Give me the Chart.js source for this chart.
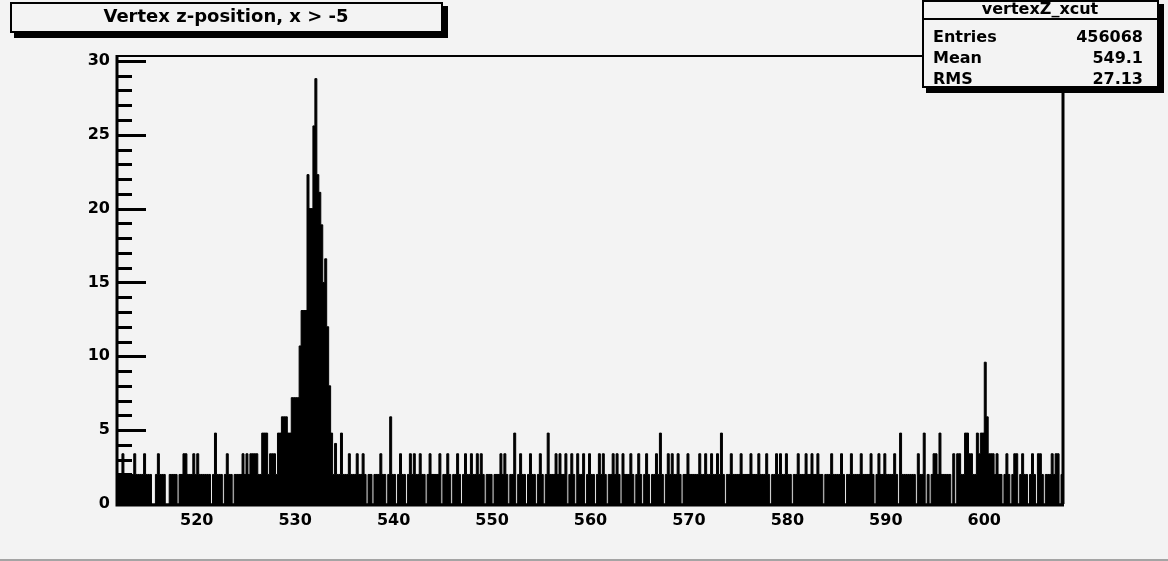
<!DOCTYPE html>
<html>
<head>
<meta charset="utf-8">
<script src="https://cdn.jsdelivr.net/npm/chart.js@4.4.0/dist/chart.umd.min.js"></script>
<style>
  html, body { margin: 0; padding: 0; background: #f3f3f3; }
  #wrap { position: relative; width: 1168px; height: 561px; }
</style>
</head>
<body>
<div id="wrap"><canvas id="histo" width="1168" height="561"></canvas></div>
<script>
// vertexZ_xcut histogram, 0.2 wide bins from 512 to 608
const xMin = 512;
const xMax = 608;
const binWidth = 0.2;
const xTicks = [520, 530, 540, 550, 560, 570, 580, 590, 600];
const yTicks = [0, 5, 10, 15, 20, 25, 30];
const yMax = 30.4;

// bin contents, one row = 4 units (20 bins)
const binContents = [
  2, 2, 3.4, 2, 2, 2, 2, 2, 3.4, 2, 2, 2, 2, 3.4, 2, 2, 2, 0, 0, 2,          // 512
  3.4, 2, 2, 2, 0, 0, 2, 2, 2, 2, 0, 2, 2, 3.4, 3.4, 2, 2, 2, 3.4, 2,        // 516
  3.4, 2, 2, 2, 2, 2, 2, 0, 2, 4.8, 2, 2, 2, 0, 2, 3.4, 2, 2, 0, 2,          // 520
  2, 2, 2, 3.4, 2, 3.4, 2, 3.4, 3.4, 3.4, 3.4, 2, 2, 4.8, 4.8, 4.8, 2, 3.4, 3.4, 3.4, // 524
  2, 4.8, 4.8, 5.9, 5.9, 5.9, 4.8, 4.8, 7.2, 7.2, 7.2, 7.2, 10.7, 13.1, 13.1, 13.1, 22.3, 20, 20, 25.6, // 528
  28.8, 22.3, 21.1, 18.9, 15, 16.6, 12, 8, 4.8, 2, 4.1, 2, 2, 4.8, 2, 2, 2, 3.4, 2, 2, // 532
  2, 3.4, 2, 2, 3.4, 2, 0, 2, 2, 0, 2, 2, 2, 3.4, 2, 2, 0, 2, 5.9, 2,        // 536
  2, 0, 2, 3.4, 2, 2, 0, 2, 3.4, 2, 3.4, 2, 2, 3.4, 2, 2, 0, 2, 3.4, 2,      // 540
  2, 2, 2, 3.4, 0, 2, 2, 3.4, 2, 0, 2, 2, 3.4, 2, 0, 2, 3.4, 2, 2, 3.4,      // 544
  2, 2, 3.4, 2, 3.4, 2, 0, 2, 2, 2, 0, 2, 2, 2, 3.4, 2, 3.4, 2, 0, 2,        // 548
  2, 4.8, 0, 2, 3.4, 2, 2, 0, 2, 3.4, 2, 2, 0, 2, 3.4, 2, 0, 2, 4.8, 2,      // 552
  2, 2, 3.4, 2, 3.4, 2, 2, 3.4, 0, 2, 3.4, 2, 0, 3.4, 2, 2, 3.4, 0, 2, 3.4,  // 556
  2, 2, 0, 2, 3.4, 2, 3.4, 2, 0, 2, 2, 3.4, 2, 3.4, 2, 0, 3.4, 2, 2, 2,      // 560
  3.4, 2, 0, 2, 3.4, 2, 0, 2, 3.4, 2, 0, 2, 2, 3.4, 2, 4.8, 2, 0, 2, 3.4,    // 564
  2, 3.4, 2, 2, 3.4, 2, 0, 2, 2, 3.4, 2, 2, 2, 2, 2, 3.4, 2, 2, 3.4, 2,      // 568
  2, 3.4, 2, 2, 3.4, 2, 4.8, 2, 0, 2, 2, 3.4, 2, 2, 2, 2, 3.4, 2, 2, 2,      // 572
  2, 3.4, 2, 2, 2, 3.4, 2, 2, 2, 3.4, 2, 0, 2, 2, 3.4, 2, 3.4, 2, 2, 3.4,    // 576
  2, 2, 0, 2, 2, 3.4, 2, 2, 2, 3.4, 2, 2, 3.4, 2, 2, 3.4, 2, 2, 0, 2,        // 580
  2, 2, 3.4, 2, 2, 2, 2, 3.4, 2, 0, 2, 2, 3.4, 2, 2, 2, 2, 3.4, 2, 2,        // 584
  2, 2, 3.4, 2, 0, 2, 3.4, 2, 2, 3.4, 2, 2, 2, 2, 3.4, 2, 0, 4.8, 2, 2,      // 588
  2, 2, 2, 2, 2, 0, 3.4, 2, 2, 4.8, 0, 2, 0, 2, 3.4, 3.4, 2, 4.8, 2, 2,      // 592
  2, 2, 2, 0, 3.4, 0, 3.4, 3.4, 2, 2, 4.8, 4.8, 3.4, 3.4, 2, 2, 4.8, 3.4, 4.8, 4.8, // 596
  9.6, 5.9, 3.4, 3.4, 3.4, 2, 3.4, 2, 2, 0, 2, 3.4, 2, 0, 2, 3.4, 3.4, 0, 2, 3.4, // 600
  2, 2, 0, 2, 3.4, 2, 0, 3.4, 3.4, 2, 0, 2, 2, 2, 3.4, 2, 3.4, 3.4, 0, 2     // 604
];

const histTitle = "Vertex z-position, x > -5";
const statsName = "vertexZ_xcut";
const statsLabels = ["Entries", "Mean", "RMS"];
const statsValues = ["456068", "549.1", "27.13"];

const bgColor = "#f3f3f3";
const labelFont = { family: "DejaVu Sans", weight: "bold", size: 16 };

// step points: each bin starts at its low edge, last point closes the top edge
const points = binContents.map((v, i) => ({ x: xMin + i * binWidth, y: v }));
points.push({ x: xMax, y: binContents[binContents.length - 1] });

function drawBox(ctx, x, y, w, h) {
    ctx.fillStyle = "#000";
    ctx.fillRect(x + 4, y + 4, w + 1, h + 1);
    ctx.fillStyle = bgColor;
    ctx.fillRect(x, y, w, h);
    ctx.lineWidth = 2;
    ctx.strokeStyle = "#000";
    ctx.strokeRect(x + 1, y + 1, w - 2, h - 2);
    ctx.fillStyle = "#000";
}

const rootFrame = {
    id: "rootFrame",
    beforeDraw(chart) {
        const ctx = chart.ctx;
        ctx.save();
        ctx.fillStyle = bgColor;
        ctx.fillRect(0, 0, chart.width, chart.height);
        ctx.fillStyle = "#a4a4a4";
        ctx.fillRect(0, chart.height - 2, chart.width, 2);
        ctx.restore();
    },
    afterDatasetsDraw(chart) {
        const ctx = chart.ctx;
        const a = chart.chartArea;
        const y = chart.scales.y;
        ctx.save();
        ctx.strokeStyle = "#000";

        // frame
        ctx.lineWidth = 2;
        ctx.beginPath();
        ctx.moveTo(a.left, a.top + 1);
        ctx.lineTo(a.right, a.top + 1);
        ctx.stroke();
        ctx.lineWidth = 3;
        ctx.beginPath();
        ctx.moveTo(a.right, a.top);
        ctx.lineTo(a.right, a.bottom);
        ctx.moveTo(a.left - 1, a.top);
        ctx.lineTo(a.left - 1, a.bottom + 1);
        ctx.lineTo(a.right + 1, a.bottom + 1);
        ctx.stroke();

        // y ticks point into the frame
        for (let v = 0; v <= 30; v++) {
            const py = Math.round(y.getPixelForValue(v)) + 0.5;
            const len = v % 5 === 0 ? 28 : 14;
            ctx.beginPath();
            ctx.moveTo(a.left, py);
            ctx.lineTo(a.left + len, py);
            ctx.stroke();
        }

        // title box
        drawBox(ctx, 10, 2, 433, 31);
        ctx.font = "bold 18px 'DejaVu Sans'";
        ctx.textAlign = "center";
        ctx.textBaseline = "middle";
        ctx.fillText(histTitle, 226, 17);

        // stats box
        drawBox(ctx, 922, 0, 237, 88);
        ctx.lineWidth = 2;
        ctx.beginPath();
        ctx.moveTo(922, 19);
        ctx.lineTo(1159, 19);
        ctx.stroke();
        ctx.font = "bold 16px 'DejaVu Sans'";
        ctx.textAlign = "center";
        ctx.fillText(statsName, 1040, 10);
        const rowY = [38, 59, 80];
        statsLabels.forEach((lab, i) => {
            ctx.textAlign = "left";
            ctx.fillText(lab, 933, rowY[i]);
            ctx.textAlign = "right";
            ctx.fillText(statsValues[i], 1143, rowY[i]);
        });
        ctx.restore();
    }
};

new Chart(document.getElementById("histo"), {
    type: "line",
    data: {
        datasets: [{
            data: points,
            stepped: true,
            fill: "origin",
            borderColor: "#000",
            backgroundColor: "#000",
            borderWidth: 1,
            pointRadius: 0
        }]
    },
    options: {
        responsive: false,
        animation: false,
        layout: { padding: { top: 55, right: 105, left: 0, bottom: 0 } },
        plugins: {
            legend: { display: false },
            tooltip: { enabled: false }
        },
        scales: {
            x: {
                type: "linear",
                min: xMin,
                max: xMax,
                afterBuildTicks: s => { s.ticks = xTicks.map(v => ({ value: v })); },
                afterFit: s => { s.height = 57; },
                grid: { display: true, drawOnChartArea: false, drawTicks: false },
                border: { display: false },
                ticks: { color: "#000", font: labelFont, padding: 7, maxRotation: 0, autoSkip: false }
            },
            y: {
                min: 0,
                max: yMax,
                afterBuildTicks: s => { s.ticks = yTicks.map(v => ({ value: v })); },
                afterFit: s => { s.width = 118; },
                grid: { display: true, drawOnChartArea: false, drawTicks: false },
                border: { display: false },
                ticks: { color: "#000", font: labelFont, padding: 8 }
            }
        }
    },
    plugins: [rootFrame]
});
</script>
</body>
</html>
